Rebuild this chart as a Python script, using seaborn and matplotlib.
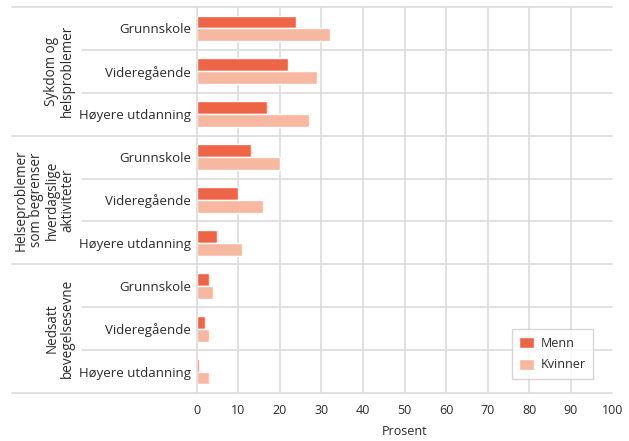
import pandas as pd
import numpy as np
import matplotlib
matplotlib.use("Agg")
import matplotlib.pyplot as plt
import matplotlib.transforms as mtransforms
import seaborn as sns

# data (percent)
groups = ["Sykdom og\nhelsproblemer",
          "Helseproblemer\nsom begrenser\nhverdagslige\naktiviteter",
          "Nedsatt\nbevegelsesevne"]
levels = ["Grunnskole", "Videregående", "Høyere utdanning"]
menn = [24, 22, 17, 13, 10, 5, 3, 2, 0.6]
kvinner = [32, 29, 27, 20, 16, 11, 4, 3, 3]
series = ["Menn", "Kvinner"]
colors = ["#ed6447", "#f6b8a0"]

rows = [f"{g}|{l}" for g in groups for l in levels]
df = pd.DataFrame({
    "row": rows * 2,
    "Prosent": menn + kvinner,
    "serie": [series[0]] * 9 + [series[1]] * 9,
})

sns.set_style("white")
plt.rcParams["font.family"] = ["Open Sans", "DejaVu Sans"]
txt_c = "#2b2b2b"

# plot area in pixels: x 196.5..612.5, y 7..393
fig = plt.figure(figsize=(6.29, 4.41), dpi=100)
ax = fig.add_axes([196.5 / 629, 1 - 393 / 441, 416 / 629, 386 / 441])

sns.barplot(data=df, y="row", x="Prosent", hue="serie", order=rows,
            hue_order=series, palette=colors, orient="h", width=0.6,
            saturation=1, ax=ax)

ax.set_xlim(0, 100)
ax.set_xticks(np.arange(0, 101, 10))
ax.set_ylim(8.5, -0.5)
ax.set_yticks(range(9))
ax.set_yticklabels(levels * 3, fontsize=9.5, color=txt_c)
ax.tick_params(axis="x", labelsize=9, colors=txt_c, length=0, pad=8)
ax.tick_params(axis="y", length=0, pad=4)
ax.set_ylabel("")
ax.set_xlabel("Prosent", fontsize=9, color=txt_c, labelpad=6)

grid_c = "#dcdcdc"
ax.grid(axis="x", color=grid_c, linewidth=1.2)
ax.set_axisbelow(True)
for s in ["top", "right", "bottom"]:
    ax.spines[s].set_visible(False)
ax.spines["left"].set_color(grid_c)
ax.spines["left"].set_linewidth(1.2)

# row / group separators reaching into the label area
trans = mtransforms.blended_transform_factory(ax.transAxes, ax.transData)
x_outer = (12 - 196.5) / 416
x_inner = (82 - 196.5) / 416
for b in np.arange(-0.5, 9, 1):
    x0 = x_outer if b in (-0.5, 2.5, 5.5, 8.5) else x_inner
    ax.plot([x0, 1], [b, b], transform=trans, color=grid_c, lw=1.2,
            clip_on=False, zorder=0)

x_text = (75 - 196.5) / 416
for i, g in enumerate(groups):
    ax.text(x_text, 3 * i + 1, g, transform=trans, rotation=90,
            ha="right", va="center", multialignment="center",
            fontsize=9.75, color=txt_c, linespacing=1.05)

ax.legend(loc="lower right", bbox_to_anchor=((593 - 196.5) / 416, 14 / 386),
          borderaxespad=0, frameon=True, edgecolor="#cccccc", fancybox=False,
          fontsize=9, handlelength=1.2, handleheight=1.0, borderpad=0.6,
          labelspacing=0.7, handletextpad=0.5, labelcolor=txt_c)

fig.savefig("out.png", dpi=100)
